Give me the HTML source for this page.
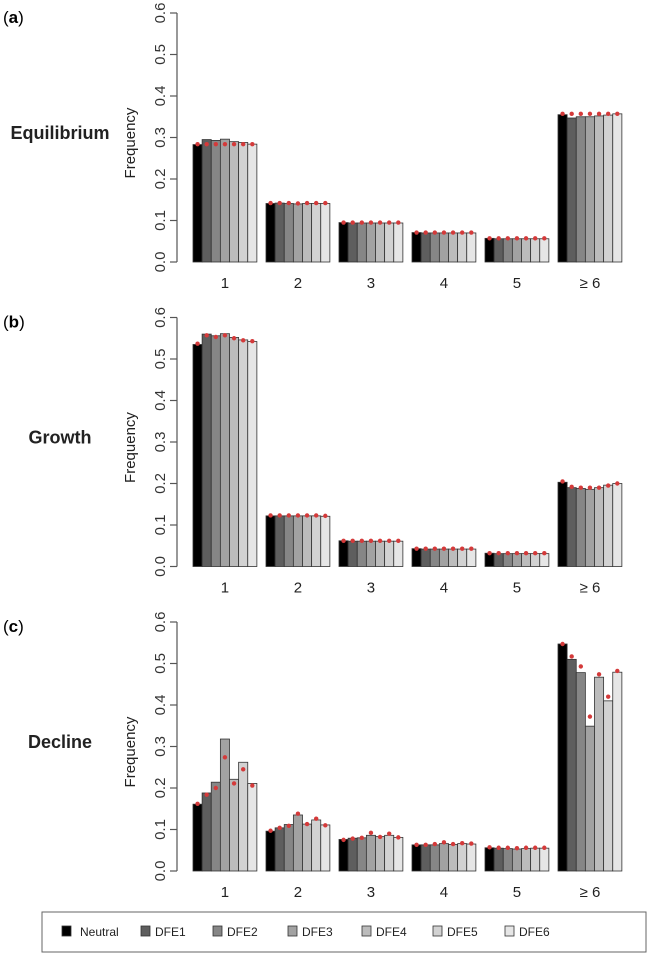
<!DOCTYPE html>
<html><head><meta charset="utf-8"><style>
body{margin:0;background:#fff;}
svg{display:block;font-family:"Liberation Sans",Arial,sans-serif;}
</style></head><body>
<svg id="chart" width="650" height="957" viewBox="0 0 650 957"></svg>
<script>
const categories = ["1","2","3","4","5","≥ 6"];
const seriesNames = ["Neutral","DFE1","DFE2","DFE3","DFE4","DFE5","DFE6"];
const yTicks = ["0.0","0.1","0.2","0.3","0.4","0.5","0.6"];
const panelTitles = ["Equilibrium","Growth","Decline"];
const panelLetters = ["a","b","c"];
const barsA = [[0.283,0.295,0.293,0.296,0.290,0.288,0.284],[0.141,0.142,0.141,0.140,0.141,0.141,0.141],[0.095,0.094,0.094,0.094,0.094,0.094,0.094],[0.071,0.070,0.070,0.070,0.070,0.070,0.070],[0.057,0.056,0.056,0.056,0.056,0.056,0.056],[0.355,0.347,0.350,0.350,0.352,0.354,0.357]];
const ptsA = [[0.284,0.284,0.284,0.284,0.284,0.284,0.284],[0.142,0.142,0.142,0.141,0.142,0.142,0.142],[0.095,0.095,0.095,0.095,0.095,0.095,0.095],[0.071,0.071,0.071,0.071,0.071,0.071,0.071],[0.057,0.057,0.057,0.057,0.057,0.057,0.057],[0.357,0.357,0.357,0.357,0.357,0.357,0.357]];
const barsB = [[0.535,0.560,0.556,0.561,0.552,0.546,0.542],[0.122,0.122,0.122,0.122,0.122,0.122,0.121],[0.062,0.061,0.061,0.061,0.061,0.061,0.061],[0.043,0.042,0.042,0.042,0.042,0.042,0.042],[0.032,0.031,0.031,0.031,0.031,0.031,0.031],[0.203,0.190,0.188,0.186,0.190,0.196,0.200]];
const ptsB = [[0.537,0.557,0.553,0.557,0.550,0.545,0.543],[0.123,0.123,0.123,0.123,0.123,0.123,0.122],[0.062,0.062,0.062,0.062,0.062,0.062,0.062],[0.043,0.043,0.043,0.043,0.043,0.043,0.043],[0.032,0.032,0.032,0.032,0.032,0.032,0.032],[0.205,0.192,0.190,0.190,0.190,0.195,0.200]];
const barsC = [[0.161,0.188,0.214,0.318,0.221,0.262,0.211],[0.096,0.104,0.112,0.135,0.113,0.123,0.111],[0.076,0.079,0.080,0.086,0.083,0.086,0.081],[0.063,0.063,0.063,0.066,0.064,0.066,0.065],[0.056,0.055,0.054,0.053,0.054,0.055,0.055],[0.547,0.510,0.478,0.349,0.467,0.410,0.479]];
const ptsC = [[0.162,0.184,0.200,0.274,0.211,0.245,0.206],[0.097,0.104,0.109,0.138,0.113,0.126,0.110],[0.075,0.078,0.080,0.092,0.082,0.090,0.081],[0.063,0.063,0.065,0.069,0.065,0.067,0.066],[0.057,0.056,0.056,0.055,0.056,0.056,0.056],[0.547,0.517,0.493,0.372,0.474,0.420,0.482]];
const allBars=[barsA,barsB,barsC], allPts=[ptsA,ptsB,ptsC];
const colors=["#000000","#5e5e5e","#868686","#a2a2a2","#bcbcbc","#d2d2d2","#e6e6e6"];
const legendX=[62,141,213,288,362,433,505];

const NS="http://www.w3.org/2000/svg";
const svg=document.getElementById('chart');
function mk(tag,attrs,parent,text){const e=document.createElementNS(NS,tag);for(const k in attrs)e.setAttribute(k,attrs[k]);if(text!==undefined)e.textContent=text;(parent||svg).appendChild(e);return e;}
const unit=9.125, x0=193, axisX=177;
function xBar(c,s){return x0+(c*8+s)*unit;}
for(let p=0;p<3;p++){
  const base=262+p*304.5, top=base-249;
  const y=v=>base-v/0.6*249;
  const g=mk('g',{});  
  const lt=mk('text',{x:3,y:top+10,'font-size':17},g);
  
  lt.innerHTML='(<tspan font-weight="bold">'+panelLetters[p]+'</tspan>)';
  const tt=mk('text',{x:60,y:top+126,'font-size':18,'font-weight':'bold',fill:'#222','text-anchor':'middle'},g,panelTitles[p]);
  
  const yl=mk('text',{x:0,y:0,'font-size':15,fill:'#222','text-anchor':'middle',transform:`translate(135,${top+130}) rotate(-90)`},g,'Frequency');
  
  const ax=mk('line',{x1:axisX,x2:axisX,y1:y(0),y2:y(0.6),stroke:'#555','stroke-width':1.2},g);
  
  yTicks.forEach((t,i)=>{const v=i*0.1;
    mk('line',{x1:axisX-7,x2:axisX,y1:y(v),y2:y(v),stroke:'#555','stroke-width':1.2},g);
    const tl=mk('text',{x:0,y:0,'font-size':15,fill:'#333','text-anchor':'middle',transform:`translate(${axisX-12},${y(v)}) rotate(-90)`},g,t);
    
  });
  categories.forEach((c,ci)=>{
    allBars[p][ci].forEach((v,si)=>{
      const r=mk('rect',{x:xBar(ci,si),y:y(v),width:unit,height:y(0)-y(v),fill:colors[si],stroke:'#333','stroke-width':0.8},g);
      
      
    });
    allPts[p][ci].forEach((v,si)=>{
      const d=mk('circle',{cx:xBar(ci,si)+unit/2,cy:y(v),r:2.2,fill:'#d43a3a'},g);
      
      
    });
    const xl=mk('text',{x:xBar(ci,3.5),y:base+26,'font-size':15,fill:'#222','text-anchor':'middle'},g,c);
    
  });
}
const lg=mk('g',{});  
mk('rect',{x:42,y:912,width:604,height:40,fill:'#fff',stroke:'#666','stroke-width':1},lg);
seriesNames.forEach((n,i)=>{
  const lx=legendX[i];
  const e=mk('g',{},lg);  
  mk('rect',{x:lx,y:926,width:9,height:10,fill:colors[i],stroke:'#333','stroke-width':0.8},e);
  mk('text',{x:lx+(i===0?18:14),y:936,'font-size':12,fill:'#222'},e,n);
});
</script>
</body></html>
